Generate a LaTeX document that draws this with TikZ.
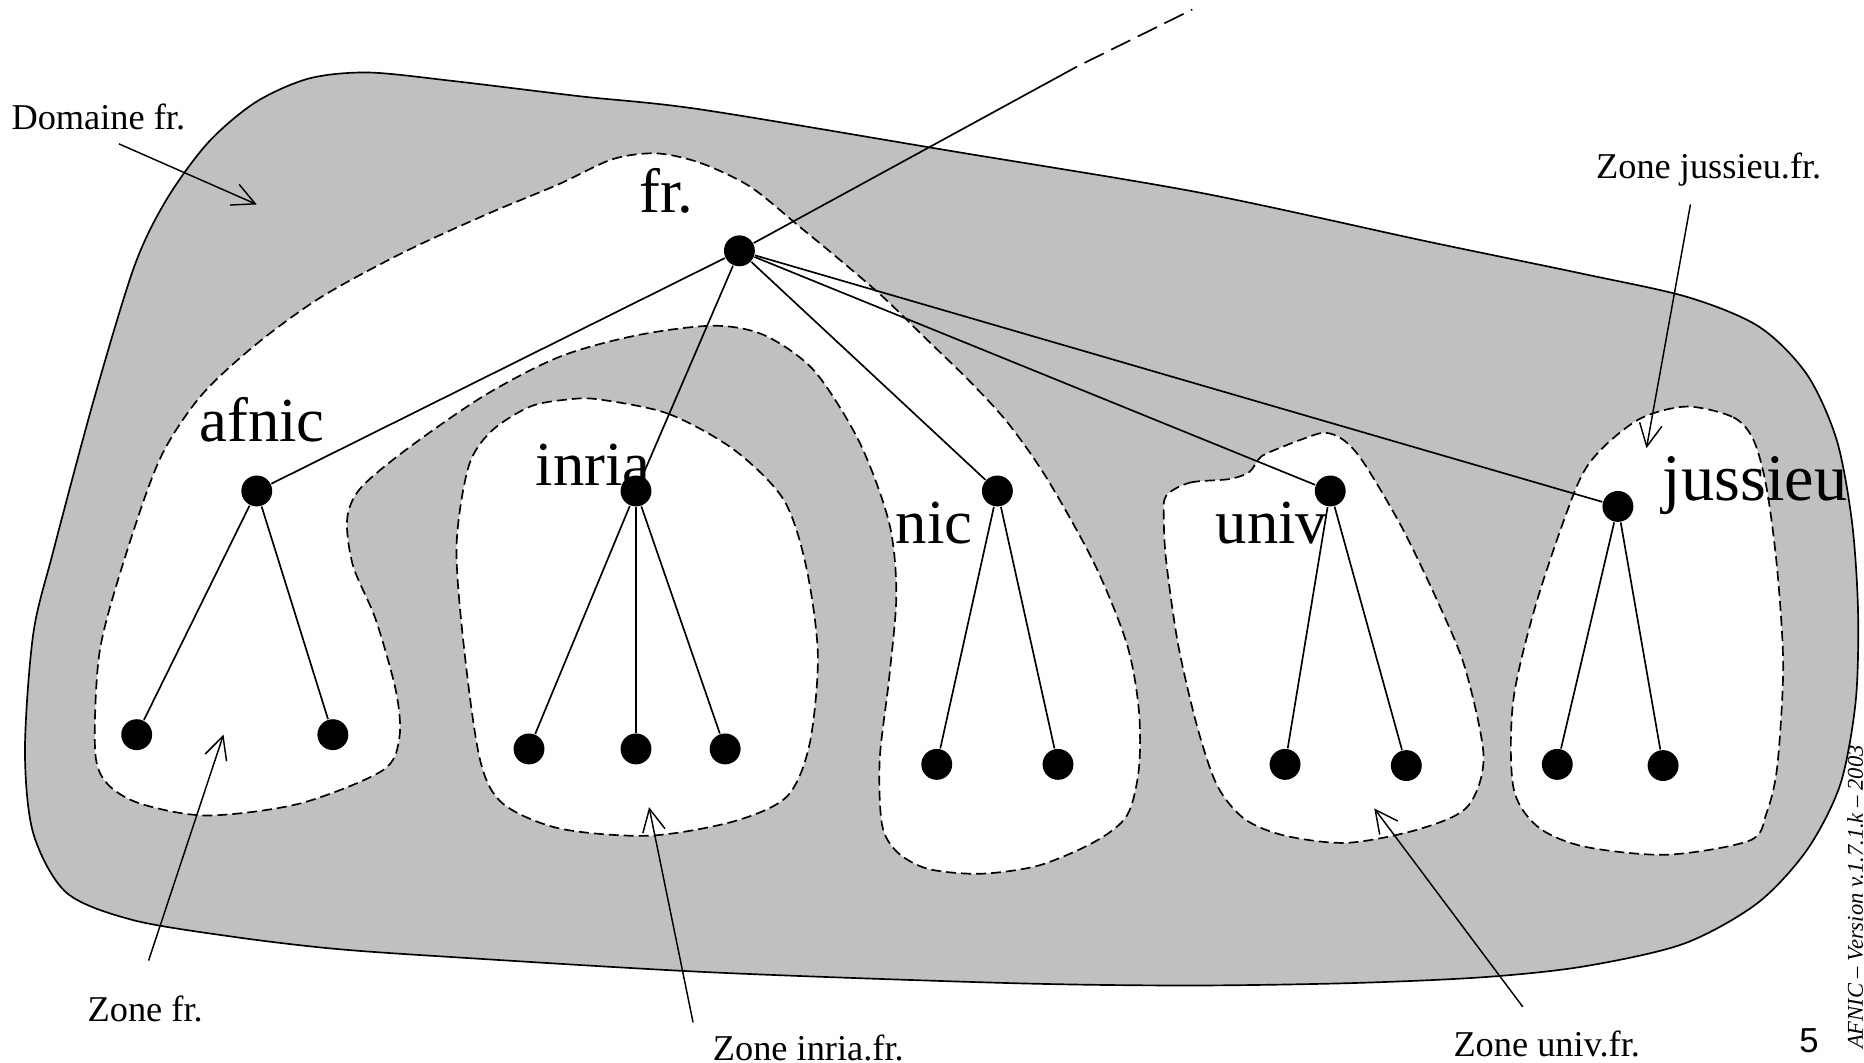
\documentclass[tikz,border=0pt]{standalone}
\usepackage{fontspec}
\setmainfont{Liberation Serif}
\newfontfamily\pagenumfont{Liberation Sans}
\usetikzlibrary{arrows.meta}
\definecolor{zonegray}{RGB}{192,192,192}
\begin{document}
\begin{tikzpicture}[x=0.1mm,y=-0.1mm,
  domainshape/.style={fill=zonegray, draw=black, line width=0.4pt},
  zoneshape/.style={fill=white, draw=black, line width=0.4pt, dash pattern=on 0.84mm off 0.42mm},
  dot/.style={circle, fill=black, inner sep=0pt, minimum size=2.6mm},
  link/.style={line width=0.4pt},
  pointer/.style={line width=0.35pt, -{Straight Barb[length=1.9mm,width=1.9mm]}},
  biglabel/.style={font=\fontsize{15}{18}\selectfont, inner sep=0pt, anchor=base west},
  smalllabel/.style={font=\fontsize{8.7}{10}\selectfont, inner sep=0pt, anchor=base west},
]
\useasboundingbox (0,0) rectangle (1568,894);

% the .fr domain
\draw[domainshape] plot[smooth cycle] coordinates {(113,224) (140,168) (175,120) (215,86) (260,66) (310,61) (380,68) (488,81) (589,92) (800,127) (1009,162) (1200,203) (1330,230) (1420,250) (1480,275) (1520,315) (1545,370) (1558,440) (1563,515) (1561,590) (1548,660) (1520,715) (1478,760) (1416,794) (1332,813) (1248,822) (1136,827) (1000,829) (850,827) (600,818) (379,805) (280,798) (196,788) (112,774) (56,751) (28,701) (21,631) (28,533) (45,463) (79,336)};

% zone fr.
\draw[zoneshape] plot[smooth cycle] coordinates {(552,129) (589,137) (631,157) (673,191) (707,219) (743,250) (779,285) (815,320) (848,356) (881,403) (921,475) (948,542) (958,597) (958,647) (948,686) (921,708) (874,728) (825,735) (781,731) (755,717) (742,694) (740,639) (748,570) (754,500) (748,440) (723,372) (685,312) (643,282) (600,274) (536,282) (471,300) (407,333) (342,378) (303,411) (292,437) (297,476) (316,521) (333,581) (336,620) (322,648) (252,676) (174,686) (118,676) (90,659) (80,631) (84,547) (107,463) (135,385) (169,333) (215,290) (270,250) (340,212) (410,180) (470,155) (515,134)};

% zone inria.fr.
\draw[zoneshape] plot[smooth cycle] coordinates {(504,336) (562,348) (617,378) (659,420) (678,476) (688,551) (681,626) (662,670) (617,691) (546,703) (471,697) (423,676) (404,640) (391,551) (384,461) (394,393) (413,363) (446,342) (478,336)};

% zone univ.fr.
\draw[zoneshape] plot[smooth cycle] coordinates {(981,417) (1001,406) (1034,403) (1051,397) (1061,384) (1081,375) (1094,370) (1114,364) (1130,370) (1147,389) (1180,445) (1213,514) (1233,564) (1248,637) (1234,679) (1192,698) (1133,709) (1081,703) (1047,689) (1024,661) (1007,611) (991,542) (981,472) (979,436)};

% zone jussieu.fr.
\draw[zoneshape] plot[smooth cycle] coordinates {(1419,342) (1458,351) (1475,370) (1486,410) (1495,479) (1500,561) (1495,645) (1486,684) (1472,707) (1402,719) (1332,712) (1293,695) (1273,662) (1273,589) (1293,505) (1326,410) (1346,379) (1380,352)};

% tree nodes
\node[dot] (fr) at (622,211) {};
\node[dot] (afnic) at (216,413) {};
\node[dot] (inria) at (535,413) {};
\node[dot] (nic) at (839,413) {};
\node[dot] (univ) at (1119,413) {};
\node[dot] (jussieu) at (1361,426) {};
\node[dot] (a1) at (115,618) {};
\node[dot] (a2) at (280,618) {};
\node[dot] (i1) at (445,630) {};
\node[dot] (i2) at (535,630) {};
\node[dot] (i3) at (610,630) {};
\node[dot] (n1) at (788,643) {};
\node[dot] (n2) at (890,643) {};
\node[dot] (u1) at (1081,643) {};
\node[dot] (u2) at (1183,644) {};
\node[dot] (j1) at (1310,643) {};
\node[dot] (j2) at (1399,644) {};

% link to the parent zone
\coordinate (up1) at (906,56);
\coordinate (up2) at (1003,8);
\draw[link] (fr) -- (up1);
\draw[link, dash pattern=on 1.8mm off 0.7mm, dash phase=1.8mm] (up1) -- (up2);

% delegations
\draw[link] (fr) -- (afnic);
\draw[link] (fr) -- (inria);
\draw[link] (fr) -- (nic);
\draw[link] (fr) -- (univ);
\draw[link] (fr) -- (jussieu);
\draw[link] (afnic) -- (a1);
\draw[link] (afnic) -- (a2);
\draw[link] (inria) -- (i1);
\draw[link] (inria) -- (i2);
\draw[link] (inria) -- (i3);
\draw[link] (nic) -- (n1);
\draw[link] (nic) -- (n2);
\draw[link] (univ) -- (u1);
\draw[link] (univ) -- (u2);
\draw[link] (jussieu) -- (j1);
\draw[link] (jussieu) -- (j2);

% node names
\node[biglabel] (lfr) at (537,179) {fr.};
\node[biglabel] (lafnic) at (167,371) {afnic};
\node[biglabel] (linria) at (450,408) {inria};
\node[biglabel] (lnic) at (753,457) {nic};
\node[biglabel] (luniv) at (1022,457) {univ};
\node[biglabel, font=\fontsize{15.9}{18}\selectfont] (ljussieu) at (1398,421) {jussieu};

% captions and their pointers
\node[smalllabel] (cdom) at (9,109) {Domaine fr.};
\node[smalllabel] (cjus) at (1342,150) {Zone jussieu.fr.};
\node[smalllabel] (cfr) at (73,859.5) {Zone fr.};
\node[smalllabel] (cinria) at (599,892) {Zone inria.fr.};
\node[smalllabel] (cuniv) at (1222,889) {Zone univ.fr.};

\coordinate (domtail) at (100,121);
\coordinate (domtip) at (216,172);
\coordinate (frtail) at (125,808);
\coordinate (frtip) at (188,618);
\coordinate (inriatail) at (583,860);
\coordinate (inriatip) at (546,679);
\coordinate (univtail) at (1281,847);
\coordinate (univtip) at (1156,680);
\coordinate (justail) at (1422,172);
\coordinate (justip) at (1385,377);
\draw[pointer] (domtail) -- (domtip);
\draw[pointer] (frtail) -- (frtip);
\draw[pointer] (inriatail) -- (inriatip);
\draw[pointer] (univtail) -- (univtip);
\draw[pointer] (justail) -- (justip);

% page footer
\node[inner sep=0pt, anchor=base west, font=\pagenumfont\fontsize{8.3}{10}\selectfont] (pagenum) at (1513,885) {5};
\node[inner sep=0pt, anchor=base west, rotate=90, font=\fontsize{5.4}{6}\selectfont\itshape] (version) at (1567,883) {AFNIC – Version v.1.7.1.k – 2003};
\end{tikzpicture}
\end{document}
